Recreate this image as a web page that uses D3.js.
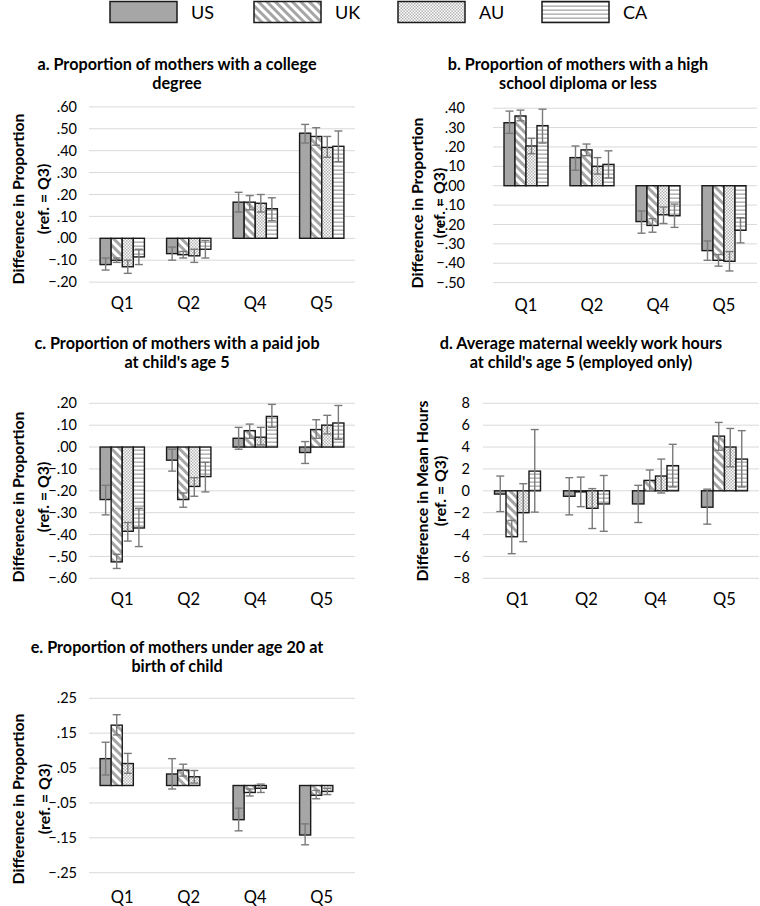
<!DOCTYPE html>
<html><head><meta charset="utf-8">
<script src="https://cdn.jsdelivr.net/npm/d3@7"></script>
<style>body{margin:0;background:#fff}svg{display:block}text{font-family:Lato,"Open Sans",sans-serif;fill:#000}</style>
</head><body>
<svg id="chart" width="760" height="906"></svg>
<script>
// ---------------- DATA ----------------
const categories = ["Q1","Q2","Q4","Q5"];
const countries = ["US","UK","AU","CA"];

// Panel a: college degree (rows = US, UK, AU, CA; cols = Q1,Q2,Q4,Q5)
const aVal = [[-0.120,-0.070,0.165,0.480],[-0.100,-0.075,0.165,0.465],[-0.130,-0.080,0.160,0.415],[-0.085,-0.050,0.135,0.420]];
const aLo  = [[-0.145,-0.100,0.120,0.435],[-0.110,-0.090,0.130,0.425],[-0.160,-0.110,0.120,0.370],[-0.120,-0.090,0.080,0.350]];
const aHi  = [[-0.090,-0.040,0.210,0.520],[-0.090,-0.060,0.195,0.505],[-0.100,-0.050,0.200,0.465],[-0.050,-0.010,0.185,0.490]];
const aTicks = [0.6,0.5,0.4,0.3,0.2,0.1,0,-0.1,-0.2];
const aTickLabels = [".60",".50",".40",".30",".20",".10",".00","\u2212.10","\u2212.20"];

// Panel b: high school diploma or less
const bVal = [[0.325,0.145,-0.185,-0.335],[0.360,0.185,-0.205,-0.385],[0.205,0.100,-0.150,-0.390],[0.310,0.110,-0.155,-0.230]];
const bLo  = [[0.270,0.080,-0.245,-0.385],[0.335,0.155,-0.240,-0.415],[0.165,0.060,-0.195,-0.440],[0.220,0.040,-0.215,-0.295]];
const bHi  = [[0.385,0.205,-0.130,-0.285],[0.390,0.215,-0.170,-0.355],[0.245,0.145,-0.110,-0.340],[0.395,0.180,-0.095,-0.165]];
const bTicks = [0.4,0.3,0.2,0.1,0,-0.1,-0.2,-0.3,-0.4,-0.5];
const bTickLabels = [".40",".30",".20",".10",".00","\u2212.10","\u2212.20","\u2212.30","\u2212.40","\u2212.50"];

// Panel c: paid job at child's age 5
const cVal = [[-0.240,-0.060,0.040,-0.025],[-0.525,-0.240,0.075,0.080],[-0.385,-0.180,0.045,0.100],[-0.370,-0.135,0.140,0.110]];
const cLo  = [[-0.310,-0.110,-0.010,-0.075],[-0.555,-0.275,0.040,0.040],[-0.430,-0.225,0.010,0.060],[-0.455,-0.205,0.090,0.035]];
const cHi  = [[-0.175,-0.010,0.090,0.025],[-0.490,-0.210,0.105,0.125],[-0.345,-0.140,0.090,0.145],[-0.280,-0.070,0.195,0.190]];
const cTicks = [0.2,0.1,0,-0.1,-0.2,-0.3,-0.4,-0.5,-0.6];
const cTickLabels = [".20",".10",".00","\u2212.10","\u2212.20","\u2212.30","\u2212.40","\u2212.50","\u2212.60"];

// Panel d: weekly work hours (employed only)
const dVal = [[-0.3,-0.5,-1.2,-1.5],[-4.2,-0.1,0.95,5.0],[-2.0,-1.6,1.35,4.0],[1.8,-1.2,2.3,2.9]];
const dLo  = [[-1.9,-2.2,-2.9,-3.05],[-5.75,-1.45,0.0,3.7],[-4.65,-3.45,-0.2,2.2],[-1.95,-3.7,0.35,0.35]];
const dHi  = [[1.35,1.2,0.5,0.15],[-2.7,1.25,1.9,6.25],[0.65,0.2,2.9,5.7],[5.6,1.4,4.25,5.5]];
const dTicks = [8,6,4,2,0,-2,-4,-6,-8];
const dTickLabels = ["8","6","4","2","0","\u22122","\u22124","\u22126","\u22128"];

// Panel e: under age 20 at birth (CA not available)
const eVal = [[0.077,0.033,-0.098,-0.142],[0.173,0.044,-0.020,-0.028],[0.063,0.025,-0.008,-0.017],[null,null,null,null]];
const eLo  = [[0.030,-0.010,-0.130,-0.170],[0.145,0.027,-0.030,-0.038],[0.035,0.007,-0.020,-0.026],[null,null,null,null]];
const eHi  = [[0.124,0.077,-0.065,-0.110],[0.203,0.061,-0.010,-0.014],[0.092,0.043,0.004,-0.008],[null,null,null,null]];
const eTicks = [0.25,0.15,0.05,-0.05,-0.15,-0.25];
const eTickLabels = [".25",".15",".05","\u2212.05","\u2212.15","\u2212.25"];

const panelTitles = [
  ["a. Proportion of mothers with a college","degree"],
  ["b. Proportion of mothers with a high","school diploma or less"],
  ["c. Proportion of mothers with a paid job","at child's age 5"],
  ["d. Average maternal weekly work hours","at child's age 5 (employed only)"],
  ["e. Proportion of mothers under age 20 at","birth of child"]
];
const yTitles = [
  ["Difference in Proportion","(ref. = Q3)"],
  ["Difference in Proportion","(ref. = Q3)"],
  ["Difference in Proportion","(ref. = Q3)"],
  ["Difference in Mean Hours","(ref. = Q3)"],
  ["Difference in Proportion","(ref. = Q3)"]
];

// ---------------- LAYOUT ----------------
const layout = [
  {x0:89, x1:355, dom:[-0.2,0.6], y0:282.1, y1:106.9, tickX:77, titleCx:177, titleY:64, yT1:18, yT2:43, yTcy:199, catY:303},
  {x0:493,x1:757, dom:[-0.5,0.4], y0:282.6, y1:108.2, tickX:465, titleCx:578, titleY:64, yT1:417, yT2:439, yTcy:203, catY:305},
  {x0:89, x1:355, dom:[-0.6,0.2], y0:578.3, y1:403.3, tickX:77, titleCx:177, titleY:343, yT1:18, yT2:43, yTcy:497, catY:599},
  {x0:483,x1:759, dom:[-8,8],     y0:578.3, y1:403.3, tickX:470, titleCx:581, titleY:343, yT1:422, yT2:440, yTcy:491, catY:599},
  {x0:89, x1:355, dom:[-0.25,0.25], y0:872.7, y1:698.3, tickX:77, titleCx:177, titleY:647, yT1:18, yT2:44, yTcy:799, catY:897}
];
const panelData = [
  [aVal,aLo,aHi,aTicks,aTickLabels],
  [bVal,bLo,bHi,bTicks,bTickLabels],
  [cVal,cLo,cHi,cTicks,cTickLabels],
  [dVal,dLo,dHi,dTicks,dTickLabels],
  [eVal,eLo,eHi,eTicks,eTickLabels]
];

const svg = d3.select("#chart");
const defs = svg.append("defs");
const hatchGray = "#a6a6a6";

// patterns
const pUK = defs.append("pattern").attr("id","pUK").attr("patternUnits","userSpaceOnUse")
  .attr("width",6).attr("height",6).attr("patternTransform","rotate(-45)");
pUK.append("rect").attr("width",6).attr("height",6).attr("fill","#fff");
pUK.append("rect").attr("width",3).attr("height",6).attr("fill",hatchGray);

const pAU = defs.append("pattern").attr("id","pAU").attr("patternUnits","userSpaceOnUse")
  .attr("width",3).attr("height",3);
pAU.append("rect").attr("width",3).attr("height",3).attr("fill","#fff");
pAU.append("rect").attr("width",1.5).attr("height",1.5).attr("fill","#b4b4b4");
pAU.append("rect").attr("x",1.5).attr("y",1.5).attr("width",1.5).attr("height",1.5).attr("fill","#b4b4b4");

const pCA = defs.append("pattern").attr("id","pCA").attr("patternUnits","userSpaceOnUse")
  .attr("width",4).attr("height",4);
pCA.append("rect").attr("width",4).attr("height",4).attr("fill","#fff");
pCA.append("rect").attr("y",1.5).attr("width",4).attr("height",1.3).attr("fill",hatchGray);

const fills = {US:"#a6a6a6", UK:"url(#pUK)", AU:"url(#pAU)", CA:"url(#pCA)"};

// legend
const legendX = d3.scalePoint().domain(countries).range([110,542]);
const leg = svg.append("g");
countries.forEach(c => {
  const x = legendX(c);
  leg.append("rect").attr("x",x).attr("y",1.5).attr("width",67).attr("height",21)
    .attr("fill",fills[c]).attr("stroke","#1a1a1a").attr("stroke-width",1.5);
  leg.append("text").attr("x",x+81).attr("y",19).attr("font-size",18).text(c);
});

// panels
layout.forEach((L,i) => {
  const [vals,lo,hi,ticks,tickLabels] = panelData[i];
  const g = svg.append("g");
  const x = d3.scaleBand().domain(categories).range([L.x0,L.x1]);
  const inner = d3.scaleBand().domain(countries).range([0,x.bandwidth()]).paddingOuter(1.0).paddingInner(0);
  const y = d3.scaleLinear().domain(L.dom).range([L.y0,L.y1]);

  // gridlines
  g.append("g").selectAll("line").data(ticks).join("line")
    .attr("x1",L.x0).attr("x2",L.x1).attr("y1",d=>y(d)).attr("y2",d=>y(d))
    .attr("stroke","#d9d9d9").attr("stroke-width",1);

  // y axis labels
  const yAxis = d3.axisLeft(y).tickValues(ticks).tickSize(0).tickPadding(0)
    .tickFormat((d,k)=>tickLabels[k]);
  const ya = g.append("g").attr("transform",`translate(${L.tickX},0)`).call(yAxis);
  ya.select(".domain").remove();
  ya.selectAll("text").attr("font-size",14.5).attr("font-family","Lato").attr("fill","#000");

  // category labels
  const xa = g.append("g").attr("transform",`translate(0,${L.catY})`)
    .call(d3.axisBottom(x).tickSize(0).tickPadding(0));
  xa.select(".domain").remove();
  xa.selectAll("text").attr("font-size",16.5).attr("font-family","Lato").attr("fill","#000").attr("dy","0.35em");

  // bars
  countries.forEach((c,ci) => {
    categories.forEach((q,qi) => {
      const v = vals[ci][qi];
      if (v === null) return;
      const bx = x(q) + inner(c);
      const bw = inner.bandwidth();
      g.append("rect").attr("x",bx).attr("width",bw)
        .attr("y",y(Math.max(0,v))).attr("height",Math.abs(y(v)-y(0)))
        .attr("fill",fills[c]).attr("stroke","#1a1a1a").attr("stroke-width",1.4);
      const cx = bx + bw/2;
      const eg = g.append("g").attr("stroke","#7a7a7a").attr("stroke-width",1.4);
      eg.append("line").attr("x1",cx).attr("x2",cx).attr("y1",y(lo[ci][qi])).attr("y2",y(hi[ci][qi]));
      [lo[ci][qi],hi[ci][qi]].forEach(e => {
        eg.append("line").attr("x1",cx-4).attr("x2",cx+4).attr("y1",y(e)).attr("y2",y(e));
      });
    });
  });

  // title
  const t = panelTitles[i];
  g.append("text").attr("x",L.titleCx).attr("y",L.titleY).attr("text-anchor","middle")
    .attr("dy","0.35em").attr("font-size",16.2).attr("font-weight","bold").text(t[0]);
  g.append("text").attr("x",L.titleCx).attr("y",L.titleY+19).attr("text-anchor","middle")
    .attr("dy","0.35em").attr("font-size",16.2).attr("font-weight","bold").text(t[1]);

  // y title
  const yt = yTitles[i];
  [[yt[0],L.yT1],[yt[1],L.yT2]].forEach(([s,xx]) => {
    g.append("text").attr("transform",`translate(${xx},${L.yTcy}) rotate(-90)`)
      .attr("text-anchor","middle").attr("dy","0.35em").attr("font-size",15.8)
      .attr("font-weight","bold").text(s);
  });
});
</script>
</body></html>
